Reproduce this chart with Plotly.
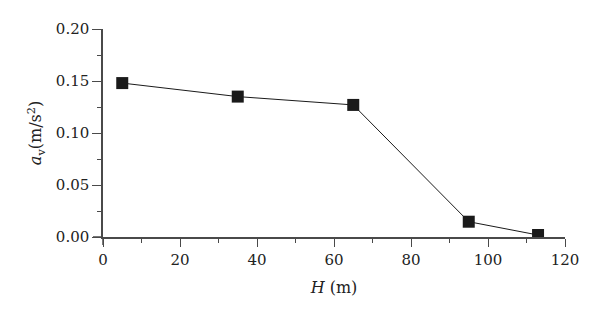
import plotly.graph_objects as go

H_m = [5, 35, 65, 95, 113]
a_v = [0.148, 0.135, 0.127, 0.0147, 0.0019]
x_ticks = [0, 20, 40, 60, 80, 100, 120]
y_ticks = [0.00, 0.05, 0.10, 0.15, 0.20]
y_tick_labels = ["0.00", "0.05", "0.10", "0.15", "0.20"]

FONT = "DejaVu Serif"
AX = "#4a4a4a"

fig = go.Figure()
fig.add_trace(go.Scatter(
    x=H_m, y=a_v, mode="lines+markers",
    line=dict(color="#1a1a1a", width=1),
    marker=dict(symbol="square", size=12, color="#1a1a1a"),
    showlegend=False,
))

fig.update_layout(
    width=600, height=321,
    margin=dict(l=95, r=43, t=21, b=92),
    paper_bgcolor="white", plot_bgcolor="white",
    font=dict(family=FONT, size=15, color="#222"),
    xaxis=dict(
        range=[0, 120], tickvals=x_ticks, showgrid=False, zeroline=False,
        showline=True, linecolor=AX, linewidth=1.5,
        ticks="outside", ticklen=8, tickwidth=1.2, tickcolor=AX,
        tickfont=dict(family=FONT, size=15),
        minor=dict(ticks="outside", ticklen=4, tickwidth=1.2, tickcolor=AX, dtick=10, showgrid=False),
        title=dict(text="<i>H</i> (m)", standoff=14, font=dict(family=FONT, size=16)),
    ),
    yaxis=dict(
        range=[0, 0.2], tickvals=y_ticks, ticktext=y_tick_labels,
        showgrid=False, zeroline=False,
        showline=True, linecolor=AX, linewidth=1.5,
        ticks="outside", ticklen=9, tickwidth=1.2, tickcolor=AX,
        tickfont=dict(family=FONT, size=15),
        minor=dict(ticks="outside", ticklen=4, tickwidth=1.2, tickcolor=AX, dtick=0.025, showgrid=False),
        title=dict(text="<i>a</i><sub>v</sub>(m/s<sup>2</sup>)", standoff=10, font=dict(family=FONT, size=16)),
    ),
)

# small overhang of the axis lines past the origin
fig.add_shape(type="line", xref="paper", yref="paper", x0=-10/462, x1=0, y0=0, y1=0,
              line=dict(color=AX, width=1.5))
fig.add_shape(type="line", xref="paper", yref="paper", x0=0, x1=0, y0=-8/208, y1=0,
              line=dict(color=AX, width=1.5))

fig.write_html("out.html")
